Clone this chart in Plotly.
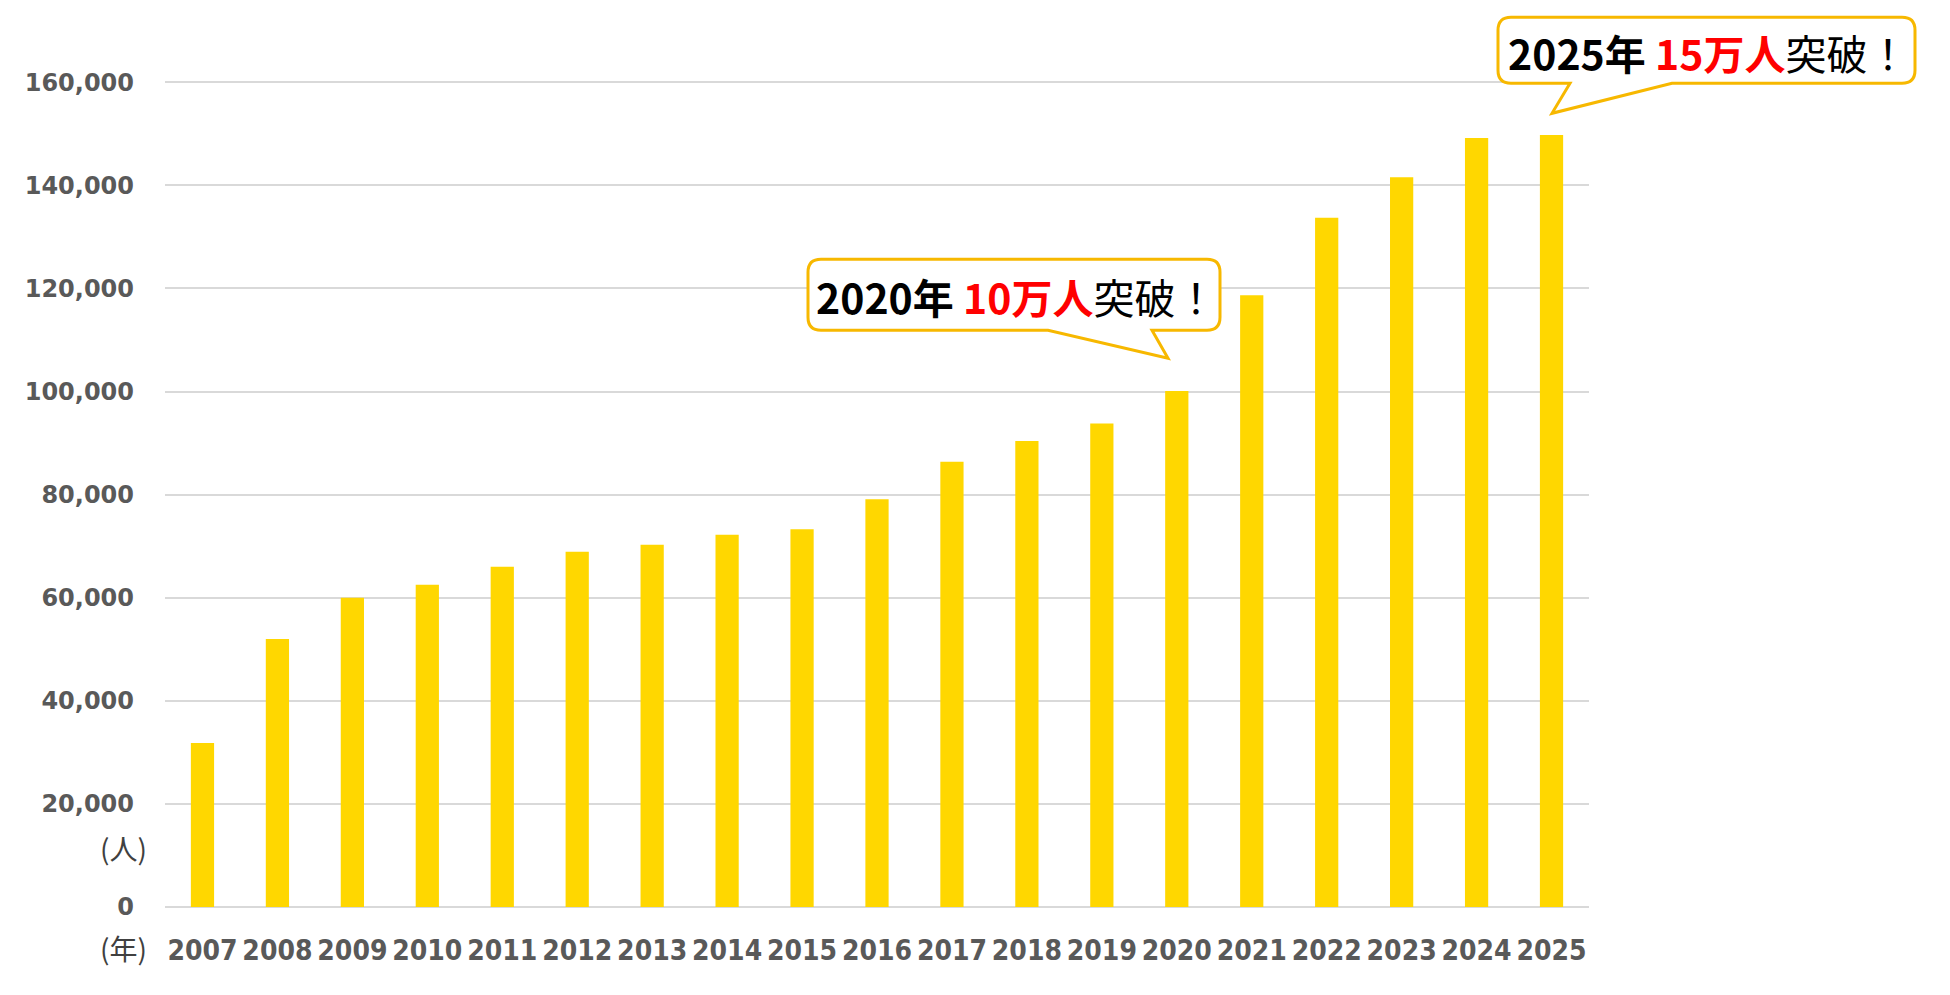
import plotly.graph_objects as go

# ---- data ----
years = [str(y) for y in range(2007, 2026)]
values = [31800, 52000, 60000, 62500, 66000, 68900, 70300, 72200, 73300, 79100,
          86400, 90400, 93800, 100100, 118700, 133700, 141600, 149200, 149800]
y_ticks = [0, 20000, 40000, 60000, 80000, 100000, 120000, 140000, 160000]
unit_y = "(人)"
unit_x = "(年)"
callout1 = "<b>2020年 </b><span style='color:#FF0000'><b>10万人</b></span>突破！"
callout2 = "<b>2025年 </b><span style='color:#FF0000'><b>15万人</b></span>突破！"

# ---- layout geometry (screen pixels; page body has an 8px margin) ----
OFF = 8
W, H = 1950, 995
Y_MAX = 162000
x_left, x_right = 165, 1589          # plot area on screen
y_zero, y_160 = 907, 82              # screen y of 0 and 160,000
y_top = y_zero - (y_zero - y_160) * Y_MAX / 160000
L = x_left - OFF
R = W - (x_right - OFF)
T = y_top - OFF
B = H - (y_zero - OFF)
PW, PH = W - L - R, H - T - B


def px(x):
    return (x - OFF - L) / PW


def py(y):
    return (H - B - (y - OFF)) / PH


def callout_path(x0, y0, x1, y1, r, tail):
    xa, tx, ty, xb = tail
    s = f"M {px(x0 + r)},{py(y0)}"
    s += f" L {px(x1 - r)},{py(y0)} Q {px(x1)},{py(y0)} {px(x1)},{py(y0 + r)}"
    s += f" L {px(x1)},{py(y1 - r)} Q {px(x1)},{py(y1)} {px(x1 - r)},{py(y1)}"
    s += f" L {px(xb)},{py(y1)} L {px(tx)},{py(ty)} L {px(xa)},{py(y1)}"
    s += f" L {px(x0 + r)},{py(y1)} Q {px(x0)},{py(y1)} {px(x0)},{py(y1 - r)}"
    s += f" L {px(x0)},{py(y0 + r)} Q {px(x0)},{py(y0)} {px(x0 + r)},{py(y0)} Z"
    return s


fig = go.Figure()
fig.add_trace(go.Bar(x=years, y=values, marker=dict(color="#FFD700", line=dict(width=0)),
                     hoverinfo="x+y"))

border = "#F7B800"
shapes = [
    dict(type="path", xref="paper", yref="paper",
         path=callout_path(808, 259, 1220, 330, 13, (1048, 1168, 358, 1152)),
         line=dict(color=border, width=3), fillcolor="white", layer="above"),
    dict(type="path", xref="paper", yref="paper",
         path=callout_path(1498, 17, 1915, 83, 13, (1570, 1552, 113, 1672)),
         line=dict(color=border, width=3), fillcolor="white", layer="above"),
]

cjk = "Noto Sans CJK JP"
annotations = [
    dict(xref="paper", yref="paper", x=px(1016), y=py(296), text=callout1, showarrow=False,
         font=dict(family=cjk, size=41, color="#000000"), xanchor="center", yanchor="middle"),
    dict(xref="paper", yref="paper", x=px(1708), y=py(52), text=callout2, showarrow=False,
         font=dict(family=cjk, size=41, color="#000000"), xanchor="center", yanchor="middle"),
    dict(xref="paper", yref="paper", x=px(123), y=py(848), text=unit_y, showarrow=False,
         font=dict(family=cjk, size=28, color="#404040"), xanchor="center", yanchor="middle"),
    dict(xref="paper", yref="paper", x=px(123), y=py(948), text=unit_x, showarrow=False,
         font=dict(family=cjk, size=28, color="#404040"), xanchor="center", yanchor="middle"),
]

fig.update_layout(
    width=W, height=H,
    margin=dict(l=L, r=R, t=T, b=B, autoexpand=False),
    paper_bgcolor="white", plot_bgcolor="white",
    showlegend=False, bargap=0.69,
    shapes=shapes, annotations=annotations,
)
fig.update_xaxes(
    type="category", range=[-0.5, len(years) - 0.5], showgrid=False, showline=False,
    ticks="", ticklabelstandoff=24,
    tickfont=dict(family="DejaVu Sans Condensed, Liberation Sans Narrow", size=28,
                  color="#595959", weight="bold"),
)
fig.update_yaxes(
    range=[0, Y_MAX], tickvals=y_ticks, tickformat=",", showgrid=True,
    gridcolor="#D9D9D9", gridwidth=2, zeroline=True, zerolinecolor="#D9D9D9",
    zerolinewidth=2, showline=False, ticks="", ticklabelstandoff=30,
    tickfont=dict(family="DejaVu Sans", size=24, color="#595959", weight="bold"),
)

fig.write_html("out.html")
